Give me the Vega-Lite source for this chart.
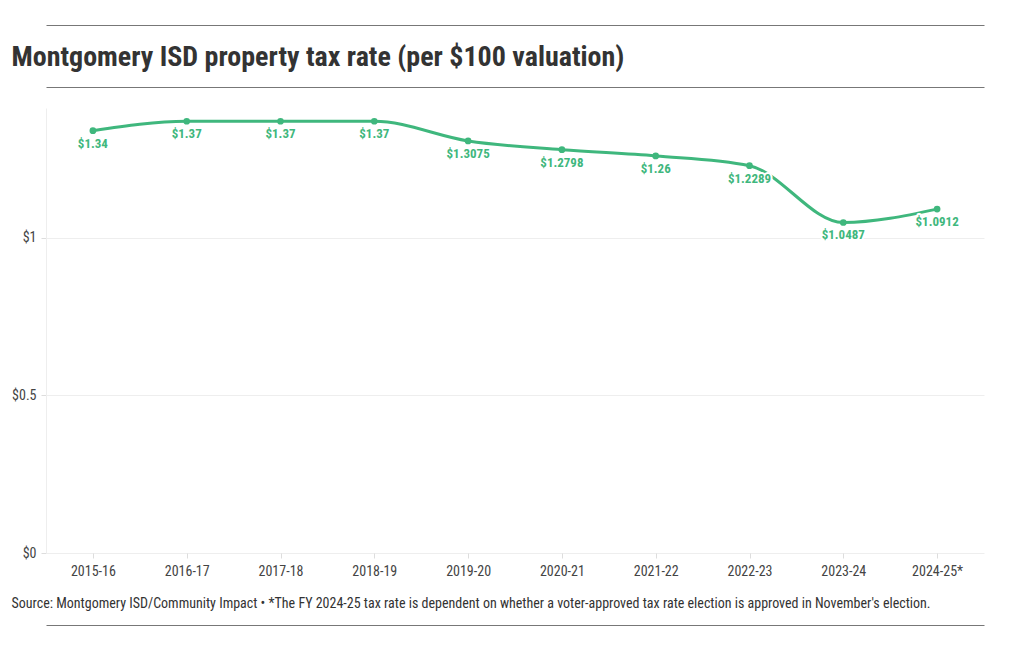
{
  "$schema": "https://vega.github.io/schema/vega-lite/v6.json",
  "autosize": {"type": "none"},
  "width": 938,
  "height": 445,
  "padding": {"left": 46, "top": 108, "right": 36, "bottom": 97},
  "background": "white",
  "config": {
    "font": "Roboto Condensed, Liberation Sans Narrow, Roboto",
    "view": {"stroke": null}
  },
  "data": {
    "values": [
      {"year": "2015-16", "rate": 1.34, "label": "$1.34"},
      {"year": "2016-17", "rate": 1.37, "label": "$1.37"},
      {"year": "2017-18", "rate": 1.37, "label": "$1.37"},
      {"year": "2018-19", "rate": 1.37, "label": "$1.37"},
      {"year": "2019-20", "rate": 1.3075, "label": "$1.3075"},
      {"year": "2020-21", "rate": 1.2798, "label": "$1.2798"},
      {"year": "2021-22", "rate": 1.26, "label": "$1.26"},
      {"year": "2022-23", "rate": 1.2289, "label": "$1.2289"},
      {"year": "2023-24", "rate": 1.0487, "label": "$1.0487"},
      {"year": "2024-25*", "rate": 1.0912, "label": "$1.0912"}
    ]
  },
  "encoding": {
    "x": {"field": "year", "type": "ordinal", "sort": null, "scale": {"type": "point", "padding": 0.5}},
    "y": {"field": "rate", "type": "quantitative", "scale": {"domain": [0, 1.412], "nice": false, "zero": true}}
  },
  "resolve": {"axis": {"x": "independent", "y": "independent"}},
  "layer": [
    {
      "mark": {"type": "line", "interpolate": "monotone", "color": "#3fb77d", "strokeWidth": 3},
      "encoding": {
        "x": {"field": "year", "type": "ordinal", "sort": null, "scale": {"type": "point", "padding": 0.5},
          "axis": {"orient": "bottom", "labelAngle": 0, "labelFontSize": 14, "labelColor": "#444", "labelPadding": 6,
            "tickColor": "#ddd", "tickSize": 5, "domain": false, "grid": false,
            "title": "Source: Montgomery ISD/Community Impact • *The FY 2024-25 tax rate is dependent on whether a voter-approved tax rate election is approved in November's election.",
            "titleFontSize": 14, "titleFontWeight": "normal", "titleColor": "#333", "titleAnchor": "start", "titleAlign": "left",
            "titleX": -35, "titleY": 50, "titleBaseline": "middle"}},
        "y": {"field": "rate", "type": "quantitative", "scale": {"domain": [0, 1.412], "nice": false},
          "axis": {"values": [0, 0.5, 1], "labelExpr": "'$' + datum.value", "labelFontSize": 14, "labelColor": "#444",
            "gridColor": "#eeeeee", "grid": true, "domainColor": "#eeeeee", "tickColor": "#dddddd", "tickSize": 5,
            "labelPadding": 5, "title": null}}
      }
    },
    {
      "mark": {"type": "point", "filled": true, "size": 45, "color": "#3fb77d", "opacity": 1},
      "encoding": {
        "x": {"field": "year", "type": "ordinal", "sort": null, "scale": {"type": "point", "padding": 0.5},
          "axis": {"orient": "top", "offset": 21, "labels": false, "ticks": false, "grid": false,
            "domain": true, "domainColor": "#777", "domainWidth": 1,
            "title": "Montgomery ISD property tax rate (per $100 valuation)",
            "titleFontSize": 28, "titleFontWeight": "bold", "titleColor": "#333", "titleAnchor": "start", "titleAlign": "left",
            "titleX": -35, "titleY": -30, "titleBaseline": "middle"}},
        "y": {"field": "rate", "type": "quantitative", "axis": null}
      }
    },
    {
      "mark": {"type": "text", "dy": 13, "fontSize": 13, "fontWeight": "bold", "color": "white", "stroke": "white", "strokeWidth": 4, "strokeJoin": "round"},
      "encoding": {
        "x": {"field": "year", "type": "ordinal", "sort": null, "scale": {"type": "point", "padding": 0.5},
          "axis": {"orient": "bottom", "offset": 72, "labels": false, "ticks": false, "grid": false,
            "domain": true, "domainColor": "#777", "domainWidth": 1, "title": null}},
        "y": {"field": "rate", "type": "quantitative", "axis": null},
        "text": {"field": "label"}
      }
    },
    {
      "mark": {"type": "text", "dy": 13, "fontSize": 13, "fontWeight": "bold", "color": "#3fb77d"},
      "encoding": {
        "x": {"field": "year", "type": "ordinal", "sort": null, "scale": {"type": "point", "padding": 0.5},
          "axis": {"orient": "top", "offset": 83, "labels": false, "ticks": false, "grid": false,
            "domain": true, "domainColor": "#777", "domainWidth": 1, "title": null}},
        "y": {"field": "rate", "type": "quantitative", "axis": null},
        "text": {"field": "label"}
      }
    }
  ]
}
